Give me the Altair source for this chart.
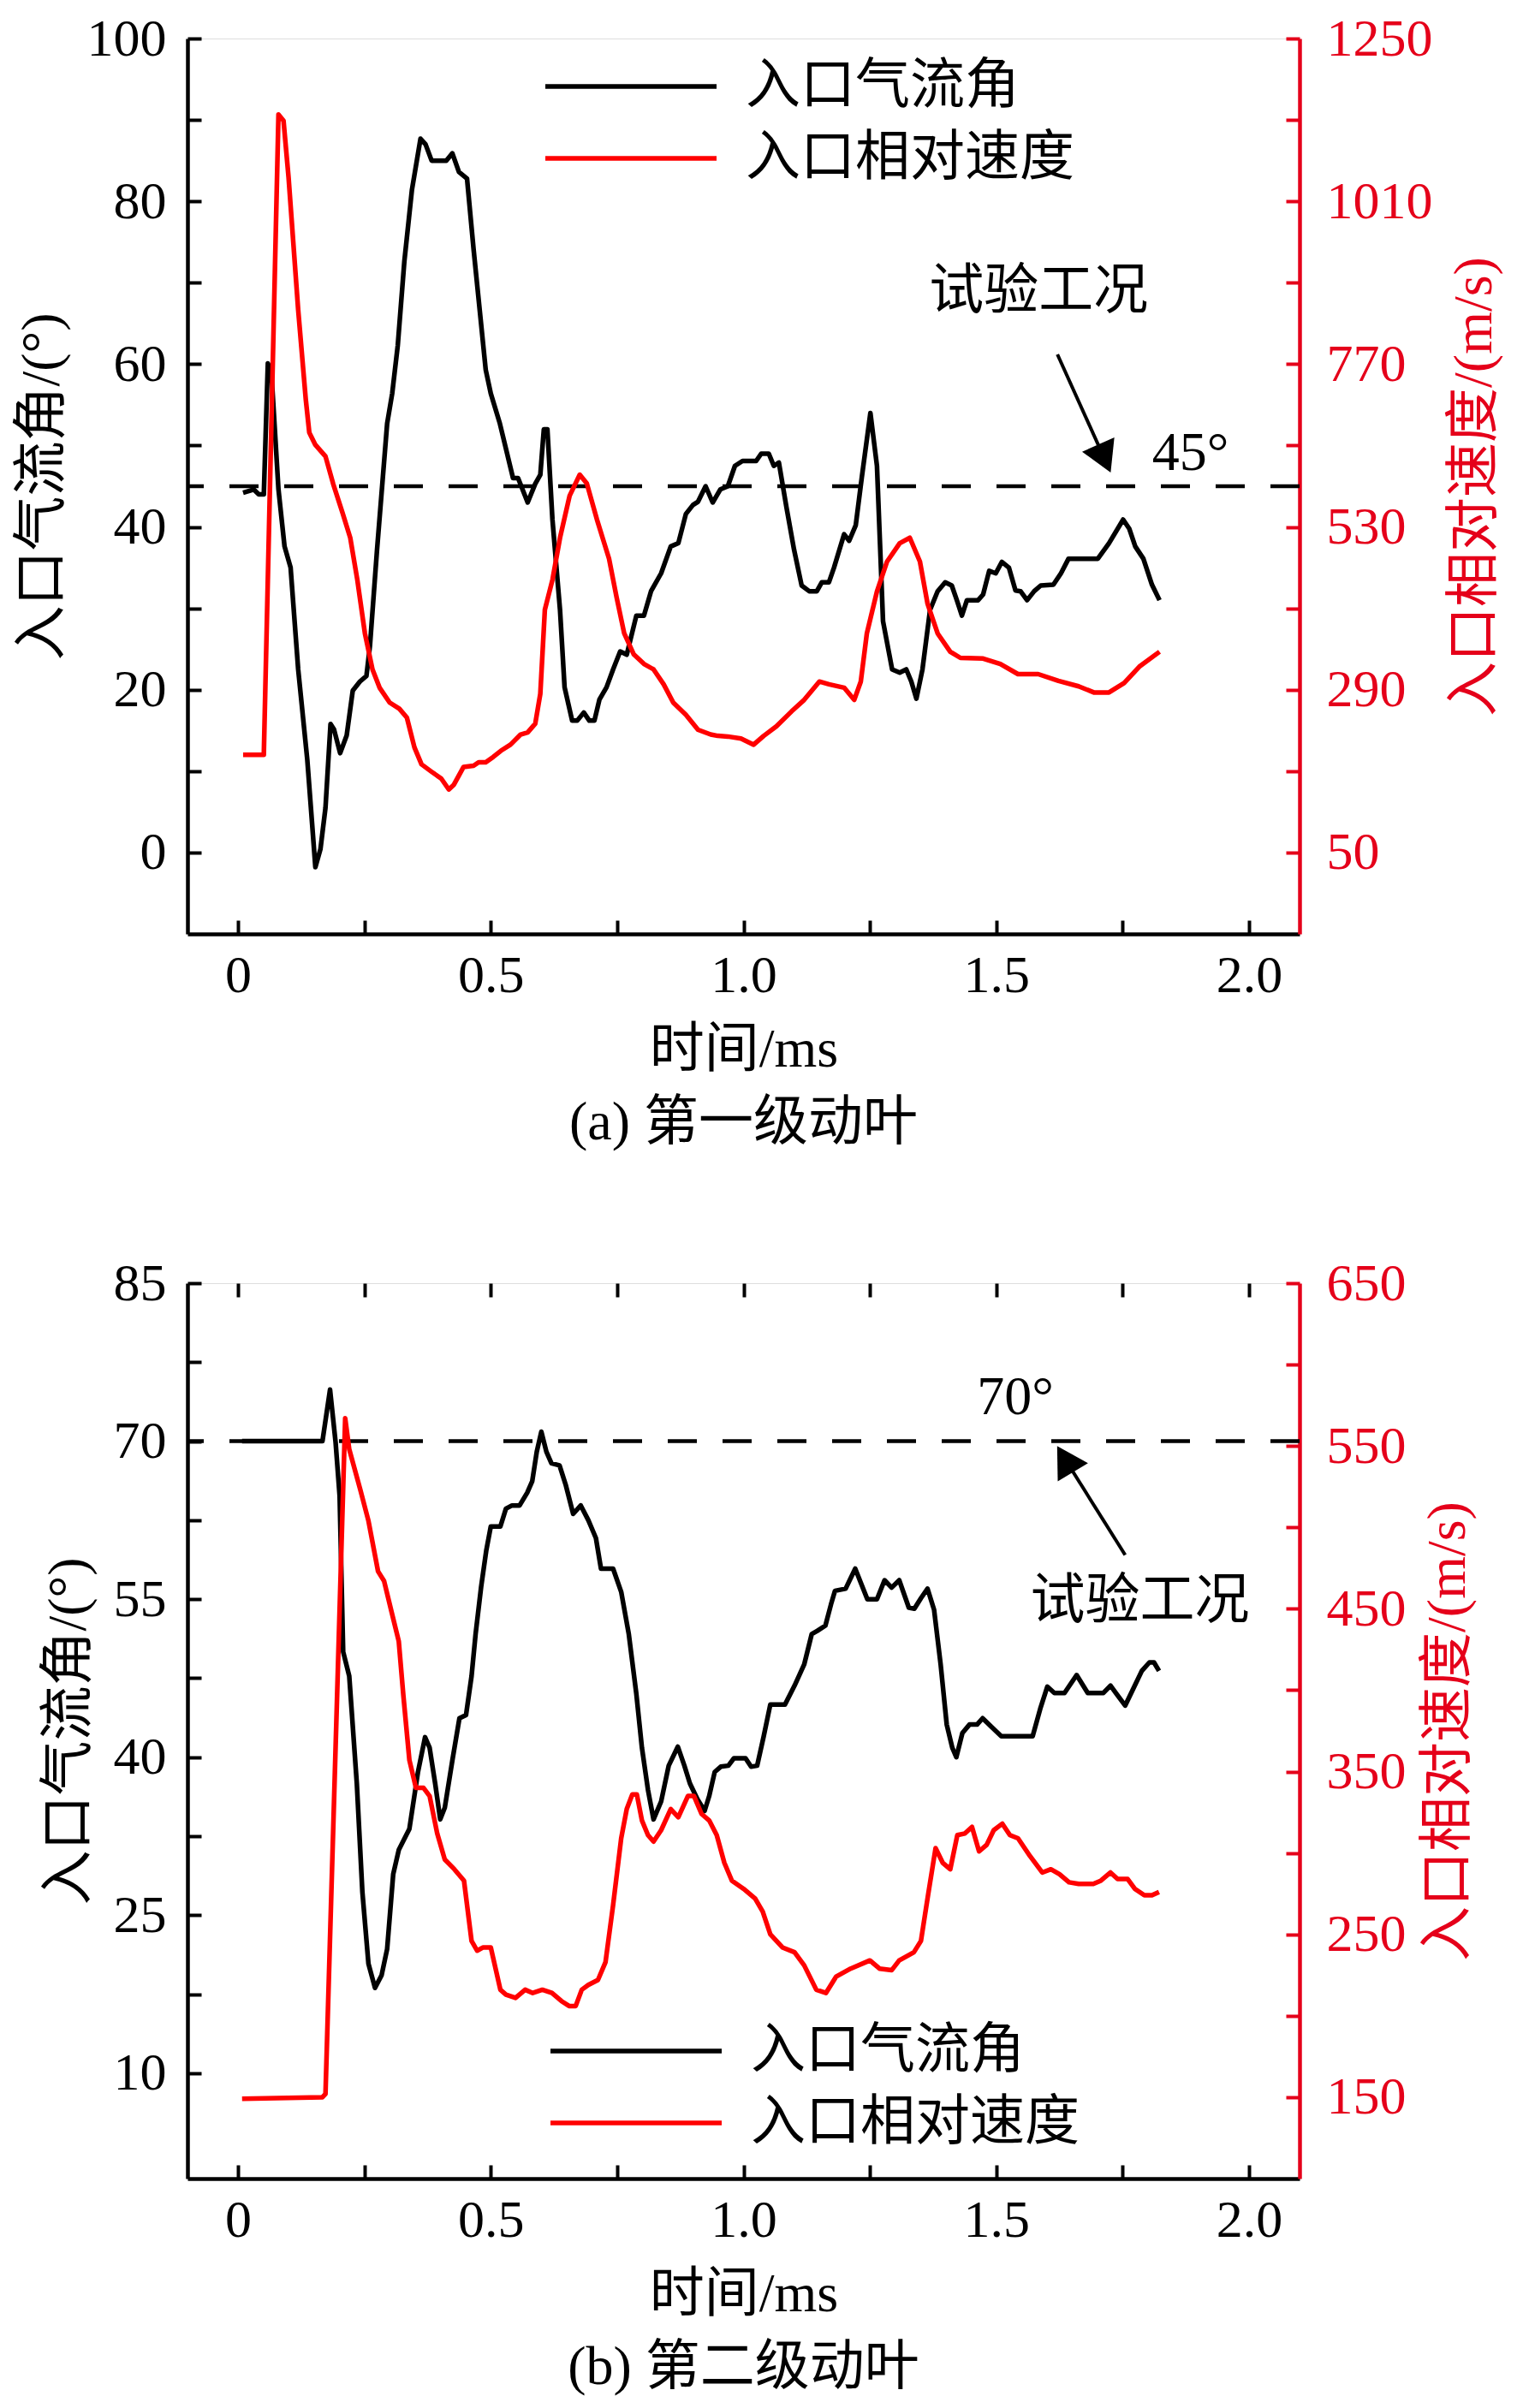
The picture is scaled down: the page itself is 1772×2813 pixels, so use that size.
import altair as alt
import pandas as pd

FONT = "Liberation Serif, Noto Sans CJK SC"
AXIS_RED = "#e5001a"
LINE_RED = "#ff0000"

W, H = 1299, 1046

SERIES = ["入口气流角", "入口相对速度"]

T_DOMAIN = [-0.1, 2.1]
T_LABELS = [0, 0.5, 1.0, 1.5, 2.0]
T_TICKS = [0, 0.25, 0.5, 0.75, 1.0, 1.25, 1.5, 1.75, 2.0]

# ---- (a) 第一级动叶 ----
A_ANGLE_T = [
    0.010, 0.031, 0.041, 0.051, 0.059, 0.066, 0.080, 0.092, 0.104, 0.119,
    0.137, 0.153, 0.163, 0.173, 0.183, 0.190, 0.202, 0.215, 0.227, 0.241,
    0.254, 0.261, 0.275, 0.295, 0.305, 0.316, 0.329, 0.344, 0.361, 0.371,
    0.383, 0.412, 0.424, 0.437, 0.453, 0.466, 0.490, 0.500, 0.518, 0.544,
    0.554, 0.573, 0.588, 0.598, 0.605, 0.612, 0.622, 0.637, 0.646, 0.661,
    0.671, 0.684, 0.695, 0.705, 0.715, 0.729, 0.742, 0.756, 0.769, 0.788,
    0.803, 0.817, 0.837, 0.856, 0.871, 0.886, 0.900, 0.910, 0.925, 0.939,
    0.954, 0.969, 0.983, 0.998, 1.025, 1.035, 1.050, 1.060, 1.070, 1.085,
    1.100, 1.115, 1.130, 1.145, 1.155, 1.169, 1.179, 1.199, 1.209, 1.222,
    1.234, 1.251, 1.264, 1.276, 1.294, 1.309, 1.322, 1.332, 1.342, 1.354,
    1.369, 1.384, 1.399, 1.412, 1.422, 1.432, 1.442, 1.464, 1.474, 1.486,
    1.499, 1.511, 1.525, 1.538, 1.548, 1.561, 1.575, 1.588, 1.613, 1.628,
    1.643, 1.701, 1.723, 1.751, 1.763, 1.775, 1.791, 1.808, 1.823,
]
A_ANGLE_V = [
    44.2, 44.6, 44.0, 44.0, 60.1, 59.0, 44.6, 37.6, 35.0, 22.5,
    11.4, -1.8, 0.4, 5.5, 15.8, 15.1, 12.2, 14.4, 19.9, 21.0,
    21.7, 25.4, 37.2, 52.7, 56.4, 62.3, 72.6, 81.4, 87.7, 87.0,
    85.0, 85.0, 85.9, 83.6, 82.8, 74.1, 59.3, 56.4, 52.7, 46.0,
    46.0, 43.0, 45.3, 46.4, 52.0, 52.0, 40.9, 29.8, 20.3, 16.2,
    16.2, 17.2, 16.2, 16.2, 18.8, 20.3, 22.5, 24.7, 24.3, 29.1,
    29.1, 32.1, 34.3, 37.6, 38.0, 41.6, 42.7, 43.1, 45.0, 43.0,
    44.6, 45.0, 47.5, 48.1, 48.1, 49.0, 49.0, 47.5, 47.9, 42.4,
    37.2, 32.8, 32.1, 32.1, 33.2, 33.2, 35.0, 39.1, 38.3, 40.2,
    46.1, 54.0, 47.5, 28.4, 22.5, 22.1, 22.5, 21.0, 18.9, 22.5,
    29.8, 32.1, 33.2, 32.8, 31.0, 29.1, 31.0, 31.0, 31.7, 34.6,
    34.3, 35.7, 35.0, 32.2, 32.1, 31.0, 32.1, 32.8, 32.9, 34.3,
    36.1, 36.1, 38.0, 40.9, 39.8, 37.6, 36.1, 32.9, 31.0,
]
A_SPEED_T = [
    0.010, 0.051, 0.080, 0.090, 0.100, 0.119, 0.134, 0.141, 0.153, 0.173,
    0.188, 0.207, 0.222, 0.236, 0.251, 0.266, 0.280, 0.300, 0.319, 0.334,
    0.349, 0.363, 0.383, 0.402, 0.417, 0.427, 0.446, 0.466, 0.476, 0.490,
    0.505, 0.520, 0.539, 0.559, 0.573, 0.588, 0.598, 0.607, 0.622, 0.637,
    0.656, 0.676, 0.690, 0.710, 0.734, 0.749, 0.764, 0.783, 0.803, 0.822,
    0.842, 0.861, 0.886, 0.910, 0.935, 0.949, 0.969, 0.995, 1.020, 1.040,
    1.065, 1.095, 1.120, 1.150, 1.169, 1.199, 1.219, 1.232, 1.244, 1.264,
    1.284, 1.309, 1.329, 1.349, 1.364, 1.384, 1.409, 1.429, 1.474, 1.508,
    1.543, 1.583, 1.623, 1.663, 1.693, 1.723, 1.753, 1.783, 1.823,
]
A_SPEED_V = [
    194, 194, 1138, 1129, 1045, 850, 718, 669, 651, 634,
    594, 550, 514, 452, 373, 320, 293, 271, 262, 249,
    205, 180, 169, 159, 143, 150, 176, 178, 183, 183,
    191, 200, 209, 224, 227, 240, 284, 408, 452, 514,
    576, 607, 594, 541, 483, 426, 373, 342, 328, 320,
    298, 271, 253, 231, 224, 222, 221, 218, 209, 222,
    236, 258, 275, 302, 298, 293, 275, 302, 373, 435,
    479, 506, 514, 479, 417, 373, 346, 337, 336, 328,
    313, 313, 303, 295, 286, 286, 300, 324, 346,
]
A_LEFT_DOMAIN = [-10, 100]
A_LEFT_LABELS = [0, 20, 40, 60, 80, 100]
A_LEFT_TICKS = [0, 10, 20, 30, 40, 50, 60, 70, 80, 90, 100]
A_RIGHT_DOMAIN = [-70, 1250]
A_RIGHT_LABELS = [50, 290, 530, 770, 1010, 1250]
A_RIGHT_TICKS = [50, 170, 290, 410, 530, 650, 770, 890, 1010, 1130, 1250]
A_REF = 45
A_NOTE_TEXT = ["试验工况", "45°"]
A_NOTE_T = [1.584, 1.884]
A_NOTE_V = [68.9, 49.0]
A_ARROW = {"t": 1.621, "v": 61.2, "t2": 1.714, "v2": 48.4, "angle": 156}

# ---- (b) 第二级动叶 ----
B_ANGLE_T = [
    0.008, 0.167, 0.182, 0.193, 0.201, 0.208, 0.220, 0.235, 0.246, 0.258,
    0.271, 0.284, 0.295, 0.307, 0.318, 0.339, 0.356, 0.370, 0.379, 0.390,
    0.400, 0.409, 0.424, 0.438, 0.451, 0.462, 0.470, 0.481, 0.491, 0.500,
    0.519, 0.530, 0.542, 0.557, 0.572, 0.582, 0.591, 0.600, 0.610, 0.620,
    0.636, 0.648, 0.663, 0.678, 0.693, 0.708, 0.718, 0.742, 0.758, 0.773,
    0.788, 0.799, 0.811, 0.822, 0.837, 0.852, 0.870, 0.883, 0.894, 0.909,
    0.923, 0.932, 0.943, 0.955, 0.970, 0.981, 1.004, 1.015, 1.027, 1.040,
    1.053, 1.082, 1.101, 1.120, 1.135, 1.146, 1.162, 1.173, 1.181, 1.202,
    1.221, 1.245, 1.264, 1.279, 1.293, 1.308, 1.327, 1.338, 1.351, 1.364,
    1.377, 1.390, 1.402, 1.413, 1.421, 1.433, 1.447, 1.462, 1.473, 1.490,
    1.510, 1.572, 1.587, 1.601, 1.615, 1.635, 1.659, 1.681, 1.712, 1.726,
    1.738, 1.755, 1.769, 1.788, 1.803, 1.812, 1.822,
]
B_ANGLE_V = [
    70.0, 70.0, 74.9, 69.9, 64.8, 50.0, 47.7, 37.5, 27.2, 20.4,
    18.1, 19.3, 21.8, 28.9, 31.2, 33.2, 38.6, 41.9, 40.9, 37.5,
    34.1, 35.2, 39.7, 43.7, 44.0, 47.7, 51.7, 56.2, 59.6, 61.9,
    61.9, 63.6, 63.9, 63.9, 65.1, 66.2, 69.0, 70.9, 69.0, 67.9,
    67.7, 65.9, 63.1, 63.9, 62.5, 60.8, 57.9, 57.9, 55.7, 51.7,
    46.0, 40.9, 36.9, 34.1, 35.8, 39.2, 41.0, 39.2, 37.5, 36.0,
    34.9, 36.3, 38.6, 39.1, 39.2, 39.9, 39.9, 39.1, 39.2, 42.0,
    45.0, 45.0, 46.8, 48.8, 51.7, 52.0, 52.5, 54.5, 55.8, 56.0,
    57.9, 55.0, 55.0, 56.8, 56.1, 56.8, 54.2, 54.1, 55.1, 56.0,
    54.0, 48.8, 43.1, 40.9, 40.0, 42.3, 43.1, 43.1, 43.7, 42.9,
    42.0, 42.0, 44.6, 46.7, 46.1, 46.1, 47.8, 46.1, 46.1, 46.8,
    46.0, 44.9, 46.3, 48.2, 49.0, 49.0, 48.2,
]
B_SPEED_T = [
    0.008, 0.167, 0.173, 0.212, 0.220, 0.242, 0.258, 0.277, 0.289, 0.303,
    0.318, 0.327, 0.339, 0.352, 0.367, 0.379, 0.394, 0.409, 0.428, 0.447,
    0.462, 0.473, 0.485, 0.500, 0.519, 0.530, 0.549, 0.568, 0.583, 0.602,
    0.621, 0.640, 0.655, 0.668, 0.680, 0.693, 0.712, 0.727, 0.742, 0.758,
    0.769, 0.780, 0.789, 0.799, 0.811, 0.822, 0.837, 0.856, 0.871, 0.890,
    0.902, 0.917, 0.932, 0.947, 0.962, 0.977, 1.000, 1.023, 1.038, 1.053,
    1.077, 1.101, 1.120, 1.144, 1.163, 1.183, 1.212, 1.250, 1.269, 1.293,
    1.308, 1.337, 1.351, 1.365, 1.380, 1.394, 1.409, 1.423, 1.438, 1.452,
    1.466, 1.481, 1.495, 1.512, 1.527, 1.543, 1.567, 1.591, 1.608, 1.625,
    1.644, 1.663, 1.692, 1.707, 1.726, 1.740, 1.760, 1.774, 1.793, 1.808,
    1.822,
]
B_SPEED_V = [
    149, 150, 152, 567, 548, 523, 504, 473, 467, 449,
    430, 397, 357, 340, 340, 335, 312, 296, 290, 283,
    246, 240, 242, 242, 216, 213, 211, 216, 214, 216,
    214, 209, 206, 206, 216, 219, 222, 233, 268, 309,
    327, 336, 336, 320, 311, 307, 314, 327, 322, 335,
    335, 324, 320, 311, 294, 283, 278, 272, 264, 250,
    242, 239, 231, 216, 214, 224, 229, 234, 229, 228,
    234, 239, 246, 274, 303, 294, 290, 311, 312, 316,
    301, 305, 314, 318, 311, 309, 298, 288, 290, 287,
    282, 281, 281, 283, 288, 284, 284, 278, 274, 274,
    276,
]
B_LEFT_DOMAIN = [0, 85]
B_LEFT_LABELS = [10, 25, 40, 55, 70, 85]
B_LEFT_TICKS = [10, 17.5, 25, 32.5, 40, 47.5, 55, 62.5, 70, 77.5, 85]
B_RIGHT_DOMAIN = [100, 650]
B_RIGHT_LABELS = [150, 250, 350, 450, 550, 650]
B_RIGHT_TICKS = [150, 200, 250, 300, 350, 400, 450, 500, 550, 600, 650]
B_REF = 70
B_NOTE_TEXT = ["70°", "试验工况"]
B_NOTE_T = [1.538, 1.784]
B_NOTE_V = [74.1, 54.8]
B_ARROW = {"t": 1.755, "v": 59.2, "t2": 1.636, "v2": 68.3, "angle": 329}


def tick_axis(orient, values, color, offset):
    return alt.Axis(orient=orient, offset=offset, values=values, labels=False,
                    domain=False, ticks=True, tickSize=16, tickWidth=4,
                    tickColor=color, grid=False)


def panel(angle_t, angle_v, speed_t, speed_v, left_dom, left_labels, left_ticks,
          right_dom, right_labels, right_ticks, ref_v, note_text, note_t, note_v,
          arrow, legend_xy, caption, top_ticks):
    angle = pd.DataFrame({"t": angle_t, "v": angle_v, "series": SERIES[0]})
    speed = pd.DataFrame({"t": speed_t, "v": speed_v, "series": SERIES[1]})
    notes = pd.DataFrame({"t": note_t, "v": note_v, "label": note_text})
    arrow_df = pd.DataFrame([arrow])

    xs = alt.Scale(domain=T_DOMAIN, nice=False, zero=False)
    ls = alt.Scale(domain=left_dom, nice=False, zero=False)
    rs = alt.Scale(domain=right_dom, nice=False, zero=False)

    color = alt.Color(
        "series:N",
        scale=alt.Scale(domain=SERIES, range=["black", LINE_RED]),
        legend=alt.Legend(
            title=None, orient="none", legendX=legend_xy[0], legendY=legend_xy[1],
            direction="vertical", symbolType="M-4,0H4", symbolSize=2500,
            symbolStrokeWidth=5.5, labelFont=FONT, labelFontSize=64,
            labelColor="black", labelOffset=102, rowPadding=20, padding=0,
            labelLimit=0,
        ),
    )

    x_axis = alt.Axis(
        orient="bottom", values=T_LABELS, ticks=False, tickSize=0,
        labelExpr="datum.value == 0 ? '0' : format(datum.value, '.1f')",
        labelFont=FONT, labelFontSize=62, labelColor="black", labelPadding=18,
        domainColor="black", domainWidth=4.5, titleFont=FONT, titleFontSize=64,
        titleFontWeight="normal", titleColor="black", titlePadding=24, grid=False,
    )
    left_axis = alt.Axis(
        orient="left", values=left_labels, ticks=False, tickSize=0, format="d",
        labelFont=FONT, labelFontSize=62, labelColor="black", labelPadding=25,
        domainColor="black", domainWidth=4.5, titleFont=FONT, titleFontSize=64,
        titleFontWeight="normal", titleColor="black", titlePadding=20, grid=False,
    )
    right_axis = alt.Axis(
        orient="right", values=right_labels, ticks=False, tickSize=0, format="d",
        labelFont=FONT, labelFontSize=62, labelColor=AXIS_RED, labelPadding=31,
        domainColor=AXIS_RED, domainWidth=4.5, titleFont=FONT, titleFontSize=64,
        titleFontWeight="normal", titleColor=AXIS_RED, titlePadding=17,
        titleAngle=270, titleBaseline="top", grid=False,
    )

    left_tick_layer = alt.Chart(angle).mark_point(opacity=0).encode(
        x=alt.X("t:Q", scale=xs, title=None,
                axis=tick_axis("top", T_TICKS, "black", -H)),
        y=alt.Y("v:Q", scale=ls, title=None,
                axis=tick_axis("right", left_ticks, "black", -W)),
    )
    right_tick_layer = alt.Chart(speed).mark_point(opacity=0).encode(
        x=alt.X("t:Q", scale=xs, title=None,
                axis=tick_axis("bottom", T_TICKS, "black", -H) if top_ticks else None),
        y=alt.Y("v:Q", scale=rs, title=None,
                axis=tick_axis("left", right_ticks, AXIS_RED, -W)),
    )
    ref = alt.Chart(pd.DataFrame({"v": [ref_v]})).mark_rule(
        color="black", strokeWidth=4.5, strokeDash=[34, 30]
    ).encode(y=alt.Y("v:Q", scale=ls, axis=None))

    angle_line = alt.Chart(angle).mark_line(strokeWidth=5.5, strokeJoin="round").encode(
        x=alt.X("t:Q", scale=xs, title="时间/ms", axis=x_axis),
        y=alt.Y("v:Q", scale=ls, title="入口气流角/(°)", axis=left_axis),
        color=color,
    )
    speed_line = alt.Chart(speed).mark_line(strokeWidth=5.5, strokeJoin="round").encode(
        x=alt.X("t:Q", scale=xs, axis=None),
        y=alt.Y("v:Q", scale=rs, title="入口相对速度/(m/s)", axis=right_axis),
        color=color,
    )
    note_layer = alt.Chart(notes).mark_text(
        font=FONT, fontSize=64, color="black", align="center", baseline="middle"
    ).encode(
        x=alt.X("t:Q", scale=xs, axis=None),
        y=alt.Y("v:Q", scale=ls, axis=None),
        text="label:N",
    )
    arrow_line = alt.Chart(arrow_df).mark_rule(color="black", strokeWidth=4).encode(
        x=alt.X("t:Q", scale=xs, axis=None),
        y=alt.Y("v:Q", scale=ls, axis=None),
        x2="t2:Q", y2="v2:Q",
    )
    arrow_head = alt.Chart(arrow_df).mark_point(
        shape="triangle-up", filled=True, size=1700, opacity=1, color="black",
        angle=arrow["angle"],
    ).encode(
        x=alt.X("t2:Q", scale=xs, axis=None),
        y=alt.Y("v2:Q", scale=ls, axis=None),
    )

    return alt.layer(
        left_tick_layer, right_tick_layer, ref, angle_line, speed_line,
        note_layer, arrow_line, arrow_head,
    ).resolve_scale(y="independent").resolve_axis(
        x="independent", y="independent"
    ).properties(
        width=W, height=H,
        title=alt.Title(caption, orient="bottom", font=FONT, fontSize=64,
                        fontWeight="normal", color="black", offset=22),
    )


top = panel(A_ANGLE_T, A_ANGLE_V, A_SPEED_T, A_SPEED_V, A_LEFT_DOMAIN,
            A_LEFT_LABELS, A_LEFT_TICKS, A_RIGHT_DOMAIN, A_RIGHT_LABELS,
            A_RIGHT_TICKS, A_REF, A_NOTE_TEXT, A_NOTE_T, A_NOTE_V, A_ARROW,
            (486, 24), "(a) 第一级动叶", False)
bottom = panel(B_ANGLE_T, B_ANGLE_V, B_SPEED_T, B_SPEED_V, B_LEFT_DOMAIN,
               B_LEFT_LABELS, B_LEFT_TICKS, B_RIGHT_DOMAIN, B_RIGHT_LABELS,
               B_RIGHT_TICKS, B_REF, B_NOTE_TEXT, B_NOTE_T, B_NOTE_V, B_ARROW,
               (492, 865), "(b) 第二级动叶", True)

chart = alt.vconcat(top, bottom, spacing=122).resolve_scale(
    color="independent"
).properties(
    padding={"left": 8, "right": 4, "top": 5, "bottom": 0},
).configure_view(
    stroke="black", strokeWidth=4.5
).configure(background="white")

chart.save("out.html", embed_options={"renderer": "svg", "actions": False})
